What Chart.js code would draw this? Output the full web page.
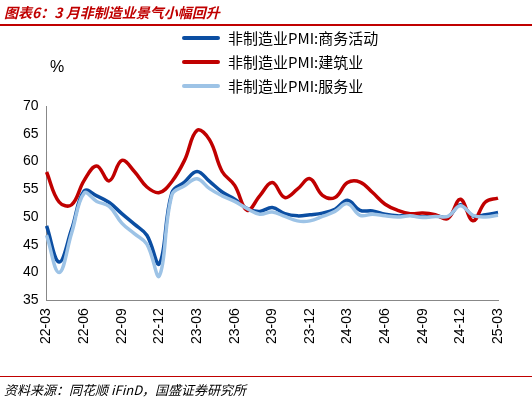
<!DOCTYPE html><html><head><meta charset="utf-8">
<script src="https://cdn.jsdelivr.net/npm/chart.js@4"></script>
<style>
body{margin:0;width:532px;height:404px;background:#fff;font-family:"Noto Sans CJK SC",sans-serif;position:relative;overflow:hidden}
#title{position:absolute;left:4px;top:2px;font-size:14px;color:#c00000;font-style:italic;font-weight:bold}
#tl{position:absolute;left:0;top:24px;width:532px;height:2px;background:#c00000}
#bl{position:absolute;left:0;top:376px;width:532px;height:1px;background:#c00000}
#src{position:absolute;left:4px;top:380px;font-size:13px;font-style:italic;color:#000}
#pct{position:absolute;left:50px;top:58px;font-size:16px;font-family:"Liberation Sans"}
#leg{position:absolute;left:182px;top:26px;font-size:15px;line-height:24px}
#leg div{display:flex;align-items:center}
#leg span{display:inline-block;width:38px;height:4px;margin-right:8px;border-radius:2px}
#c{position:absolute;left:0;top:0}
</style></head><body>
<canvas id="c" width="532" height="404"></canvas>
<div id="title">图表6：3 月非制造业景气小幅回升</div><div id="tl"></div>
<div id="pct">%</div>
<div id="leg"><div><span style="background:#0b4ea2"></span>非制造业PMI:商务活动</div><div><span style="background:#c00000"></span>非制造业PMI:建筑业</div><div><span style="background:#9dc3e6"></span>非制造业PMI:服务业</div></div>
<div id="bl"></div><div id="src">资料来源：同花顺 iFinD，国盛证券研究所</div>
<script>
const months=[];
for(let y=22;y<=25;y++)for(let m=1;m<=12;m++){if((y===22&&m<3)||(y===25&&m>3))continue;months.push(y+'-'+String(m).padStart(2,'0'));}
const business=[48.4,41.9,47.8,54.7,53.8,52.6,50.6,48.7,46.7,41.6,54.4,56.3,58.2,56.4,54.5,53.2,51.5,51.0,51.7,50.6,50.2,50.4,50.7,51.4,53.0,51.2,51.1,50.5,50.2,50.3,50.0,50.2,50.0,52.2,50.2,50.4,50.8];
const construction=[58.1,52.7,52.2,56.6,59.2,56.5,60.2,58.2,55.4,54.4,56.4,60.2,65.6,63.9,58.2,55.7,51.2,53.8,56.2,53.5,55.0,56.9,53.9,53.5,56.2,56.3,54.4,52.3,51.2,50.6,50.7,50.4,49.7,53.2,49.3,52.7,53.4];
const services=[46.7,40.0,47.1,54.3,52.8,51.9,48.9,47.0,45.1,39.4,54.0,55.6,56.9,55.1,53.8,52.8,51.5,50.5,50.9,50.1,49.3,49.3,50.1,51.0,52.4,50.3,50.5,50.2,50.0,50.2,49.9,50.1,50.1,52.0,50.3,50.0,50.3];
const ds=(d,c)=>({data:d,borderColor:c,borderWidth:3.5,pointRadius:0,tension:0.4,fill:false});
new Chart(document.getElementById('c'),{type:'line',
data:{labels:months,datasets:[ds(services,'#9dc3e6'),ds(construction,'#c00000'),ds(business,'#0b4ea2')]},
options:{responsive:false,animation:false,
layout:{padding:{left:20,right:34,top:106,bottom:57}},
plugins:{legend:{display:false},tooltip:{enabled:false}},
scales:{x:{offset:false,grid:{display:false,drawTicks:true,tickLength:5},border:{color:'#888'},
ticks:{autoSkip:false,maxRotation:90,minRotation:90,color:'#000',font:{size:14,family:'Liberation Sans'},
callback:(v,i)=>i%3===0?months[i]:null}},
y:{min:35,max:70,grid:{display:false,drawTicks:true,tickLength:5},border:{color:'#888'},
ticks:{stepSize:5,color:'#000',font:{size:14,family:'Liberation Sans'}}}}}});
</script></body></html>
